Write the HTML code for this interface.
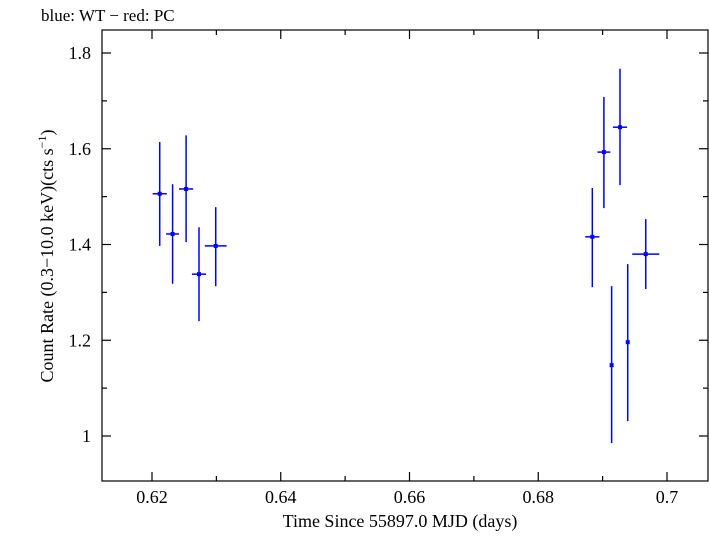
<!DOCTYPE html>
<html><head><meta charset="utf-8"><style>
body{margin:0;background:#fff;}
svg text{font-family:"Liberation Serif",serif;fill:#000;}
</style></head><body>
<svg id="chart" width="709" height="532" xmlns="http://www.w3.org/2000/svg" font-family="Liberation Serif, serif">
<text x="41" y="21" font-size="17" font-family="Liberation Serif, serif">blue: WT − red: PC</text>
<rect x="102" y="30" width="606" height="451" fill="none" stroke="#000" stroke-width="1.2"/>
<g id="ticks"></g>
<g id="marks"></g>
<text x="400" y="527" font-size="18" text-anchor="middle" font-family="Liberation Serif, serif">Time Since 55897.0 MJD (days)</text>
<text transform="translate(53,256) rotate(-90)" font-size="18" text-anchor="middle" font-family="Liberation Serif, serif">Count Rate (0.3−10.0 keV)(cts s<tspan font-size="12" dy="-7">−1</tspan><tspan dy="7">)</tspan></text>
</svg>
<script>
const times=[0.6212,0.6232,0.6253,0.6273,0.6299,0.6884,0.6902,0.6927,0.6914,0.6939,0.6967];
const timeErr=[0.0011,0.0010,0.0011,0.0011,0.0017,0.0011,0.0010,0.0011,0.0002,0.0002,0.0021];
const rates=[1.506,1.422,1.516,1.338,1.397,1.416,1.593,1.645,1.148,1.196,1.380];
const rateHi=[1.614,1.526,1.628,1.436,1.478,1.518,1.708,1.767,1.313,1.359,1.453];
const rateLo=[1.397,1.318,1.405,1.240,1.313,1.311,1.476,1.524,0.985,1.031,1.307];
const xTicks=[0.62,0.64,0.66,0.68,0.70];
const yTicks=[1,1.2,1.4,1.6,1.8];
const xMinor=[0.61,0.63,0.65,0.67,0.69];
const yMinor=[1.1,1.3,1.5,1.7,0.9];
const NS="http://www.w3.org/2000/svg";
const X=v=>152+(v-0.62)*6437.5;
const Y=v=>436-(v-1)*478.75;
const L=102,R=708,T=30,B=481;
const tk=document.getElementById('ticks'),mk=document.getElementById('marks');
function line(g,x1,y1,x2,y2,c,w,name){const l=document.createElementNS(NS,'line');
l.setAttribute('x1',x1);l.setAttribute('y1',y1);l.setAttribute('x2',x2);l.setAttribute('y2',y2);
l.setAttribute('stroke',c);l.setAttribute('stroke-width',w);


g.appendChild(l);}
function text(x,y,s,anchor,name){const t=document.createElementNS(NS,'text');
t.setAttribute('x',x);t.setAttribute('y',y);t.setAttribute('font-size','18');t.setAttribute('text-anchor',anchor);
t.setAttribute('font-family','Liberation Serif, serif');t.textContent=s;


document.getElementById('chart').appendChild(t);}
xTicks.forEach(v=>{const x=X(v);line(tk,x,B,x,B-9,'#000',1.2,'x-tick');line(tk,x,T,x,T+9,'#000',1.2,'x-tick-top');
text(x,503,String(v).replace(/0+$/,'').replace(/\.$/,''),'middle','x-tick-label');});
xMinor.forEach(v=>{const x=X(v);if(x>L&&x<R){line(tk,x,B,x,B-5,'#000',1.2,'x-minor-tick');line(tk,x,T,x,T+5,'#000',1.2,'x-minor-tick-top');}});
yTicks.forEach(v=>{const y=Y(v);line(tk,L,y,L+9,y,'#000',1.2,'y-tick');line(tk,R,y,R-9,y,'#000',1.2,'y-tick-right');
text(91,y+6,v===1?'1':v.toFixed(1),'end','y-tick-label');});
yMinor.forEach(v=>{const y=Y(v);if(y>T&&y<B){line(tk,L,y,L+5,y,'#000',1.2,'y-minor-tick');line(tk,R,y,R-5,y,'#000',1.2,'y-minor-tick-right');}});
times.forEach((t,i)=>{const x=X(t),y=Y(rates[i]);
line(mk,x,Y(rateHi[i]),x,Y(rateLo[i]),'#0000ff',1.5,'error-bar-y');
line(mk,X(t-timeErr[i]),y,X(t+timeErr[i]),y,'#0000ff',1.5,'error-bar-x');
const c=document.createElementNS(NS,'rect');c.setAttribute('x',x-2);c.setAttribute('y',y-2);c.setAttribute('width',4);c.setAttribute('height',4);c.setAttribute('fill','#0000ff');


mk.appendChild(c);});
</script>
</body></html>
